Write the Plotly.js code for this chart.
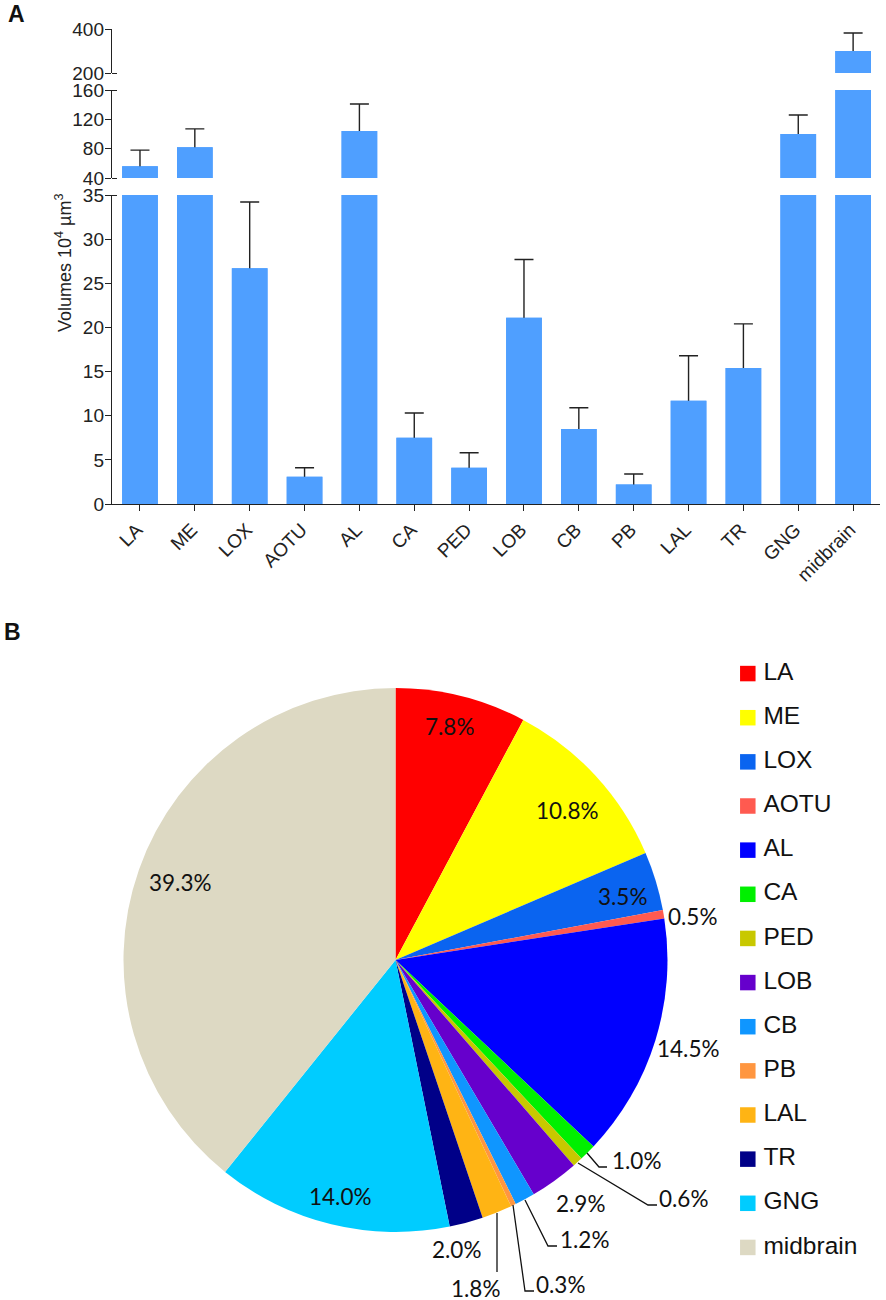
<!DOCTYPE html>
<html>
<head>
<meta charset="utf-8">
<script src="https://cdn.plot.ly/plotly-3.0.1.min.js"></script>
<style>
  html, body { margin: 0; padding: 0; background: #fff; }
  #plot { width: 886px; height: 1300px; }
</style>
</head>
<body>
<div id="plot"></div>
<script>
const regions = ["LA", "ME", "LOX", "AOTU", "AL", "CA", "PED", "LOB", "CB", "PB", "LAL", "TR", "GNG", "midbrain"];
const volumes = [56, 82, 26.7, 3.1, 104, 7.5, 4.1, 21.1, 8.5, 2.2, 11.7, 15.4, 100, 300];
const volumeErrors = [22, 25, 7.5, 1.0, 37, 2.8, 1.7, 6.6, 2.4, 1.2, 5.1, 5.0, 26, 82];
const shares = [7.8, 10.8, 3.5, 0.5, 14.5, 1.0, 0.6, 2.9, 1.2, 0.3, 1.8, 2.0, 14.0, 39.3];
const sliceColors = ["#ff0000", "#ffff00", "#0a64f0", "#ff5a50", "#0000ff", "#00f000", "#c8c800",
  "#6600cc", "#0f96ff", "#ff9640", "#ffb414", "#000088", "#00ccff", "#ddd9c3"];

// hand placed label centres for the pie, page pixels
const shareLabelPos = [[449, 726], [567, 810], [622, 896], [692, 916], [688, 1048], [636, 1160], [683, 1198],
  [580, 1203], [584, 1239], [560, 1284], [475, 1288], [456, 1249], [340, 1196], [180, 882]];
const leaders = [
  [[587, 1153], [599, 1167], [607, 1167]],
  [[578, 1163], [648, 1205], [657, 1205]],
  [[525, 1200], [548, 1246], [557, 1246]],
  [[513, 1205], [525, 1291], [534, 1291]],
  [[497, 1213], [497, 1272]],
];

const W = 886, H = 1300;
const BAR_COLOR = "#4f9fff";
const AXIS_COLOR = "#222222";
const ARIAL = "Liberation Sans, Arial, sans-serif";
const px = (x) => x / W;
const py = (y) => 1 - y / H;
const yDomain = (top, bottom) => [py(bottom), py(top)];

function barTrace(yaxis) {
  return {
    type: "bar",
    x: regions,
    y: volumes,
    yaxis: yaxis,
    xaxis: "x",
    marker: { color: BAR_COLOR },
    hoverinfo: "x+y",
    showlegend: false,
  };
}

// error bars go on a bar underneath, the plain bar on top hides the stem and lower cap
function errorBarTrace(yaxis) {
  return Object.assign(barTrace(yaxis), {
    error_y: {
      type: "data",
      symmetric: false,
      array: volumeErrors,
      arrayminus: volumes.map((v) => v / 2),
      color: AXIS_COLOR,
      thickness: 1.4,
      width: 9.5,
    },
  });
}

const pieTrace = {
  type: "pie",
  labels: regions,
  values: shares,
  sort: false,
  direction: "clockwise",
  rotation: 0,
  textinfo: "none",
  marker: { colors: sliceColors, line: { width: 0 } },
  domain: { x: [px(123.5), px(667.5)], y: yDomain(688, 1232) },
  showlegend: false,
};

// legend drawn as a scatter so the row spacing can follow the reference
const legendTrace = {
  type: "scatter",
  mode: "markers+text",
  x: regions.map(() => 0),
  y: regions,
  xaxis: "x2",
  yaxis: "y4",
  text: regions.map((r) => "\u2009" + r),
  textposition: "middle right",
  textfont: { family: ARIAL, size: 24.5, color: "#111" },
  marker: { symbol: "square", size: 15.5, color: sliceColors },
  cliponaxis: false,
  hoverinfo: "skip",
  showlegend: false,
};

function valueAxis(domain, range, tickvals, stubs) {
  return {
    domain: domain,
    range: range,
    tickmode: "array",
    tickvals: tickvals,
    ticks: "outside",
    ticklen: 6,
    tickwidth: 1.4,
    tickcolor: AXIS_COLOR,
    ticklabelstandoff: -3,
    showline: true,
    linecolor: AXIS_COLOR,
    linewidth: 1.4,
    showgrid: false,
    zeroline: false,
    anchor: "x",
    tickfont: { family: ARIAL, size: 19, color: "#222" },
    minor: { ticks: "inside", ticklen: 5, tickwidth: 1.4, tickcolor: AXIS_COLOR, tickmode: "array", tickvals: stubs, showgrid: false },
  };
}

const shareAnnotations = shares.map((s, i) => ({
  xref: "paper",
  yref: "paper",
  x: px(shareLabelPos[i][0]),
  y: py(shareLabelPos[i][1]),
  xanchor: "center",
  yanchor: "middle",
  height: 22,
  text: s.toFixed(1) + "%",
  showarrow: false,
  font: { family: "Lato, sans-serif", size: 22.5, color: "#111" },
}));

const panelLabel = (text, x, y) => ({
  xref: "paper",
  yref: "paper",
  x: px(x),
  y: py(y),
  xanchor: "left",
  yanchor: "middle",
  text: "<b>" + text + "</b>",
  showarrow: false,
  font: { family: ARIAL, size: 23, color: "#111" },
});

const volumeTitle = {
  xref: "paper",
  yref: "paper",
  x: px(63),
  y: py(263),
  xanchor: "center",
  yanchor: "middle",
  textangle: -90,
  text: "Volumes 10<sup>4</sup> µm<sup>3</sup>",
  showarrow: false,
  font: { family: ARIAL, size: 18, color: "#222" },
};

const leaderShapes = leaders.map((pts) => ({
  type: "path",
  xref: "paper",
  yref: "paper",
  path: pts.map((p, i) => (i ? "L" : "M") + px(p[0]) + "," + py(p[1])).join(" "),
  line: { color: "#111", width: 1.3 },
}));

const layout = {
  width: W,
  height: H,
  margin: { l: 0, r: 0, t: 0, b: 0 },
  paper_bgcolor: "#ffffff",
  plot_bgcolor: "#ffffff",
  barmode: "overlay",
  bargap: 0.35,
  showlegend: false,
  xaxis: {
    domain: [px(112), px(880)],
    range: [-0.51, 13.49],
    anchor: "y",
    type: "category",
    categoryorder: "array",
    categoryarray: regions,
    tickmode: "array",
    tickvals: regions,
    ticktext: regions,
    ticks: "outside",
    ticklen: 6,
    tickwidth: 1.4,
    tickcolor: AXIS_COLOR,
    tickangle: -45,
    ticklabelshift: -3,
    showline: true,
    linecolor: AXIS_COLOR,
    linewidth: 1.4,
    showgrid: false,
    zeroline: false,
    tickfont: { family: ARIAL, size: 19, color: "#222" },
  },
  yaxis: valueAxis(yDomain(195, 504), [0, 35], [0, 5, 10, 15, 20, 25, 30, 35], [35]),
  yaxis2: valueAxis(yDomain(90, 178), [40, 160], [40, 80, 120, 160], [40, 160]),
  yaxis3: valueAxis(yDomain(29, 73), [200, 400], [200, 400], [200]),
  xaxis2: {
    domain: [px(730), 1],
    range: [-17.8, 138.2],
    anchor: "y4",
    visible: false,
  },
  yaxis4: {
    domain: yDomain(651.5, 1269.5),
    type: "category",
    categoryorder: "array",
    categoryarray: regions,
    range: [13.5, -0.5],
    anchor: "x2",
    visible: false,
  },
  annotations: [panelLabel("A", 6, 14), panelLabel("B", 2, 632), volumeTitle].concat(shareAnnotations),
  shapes: leaderShapes,
};

const traces = [
  errorBarTrace("y"), barTrace("y"),
  errorBarTrace("y2"), barTrace("y2"),
  errorBarTrace("y3"), barTrace("y3"),
  pieTrace, legendTrace,
];

Plotly.newPlot("plot", traces, layout, { displayModeBar: false });
</script>
</body>
</html>
